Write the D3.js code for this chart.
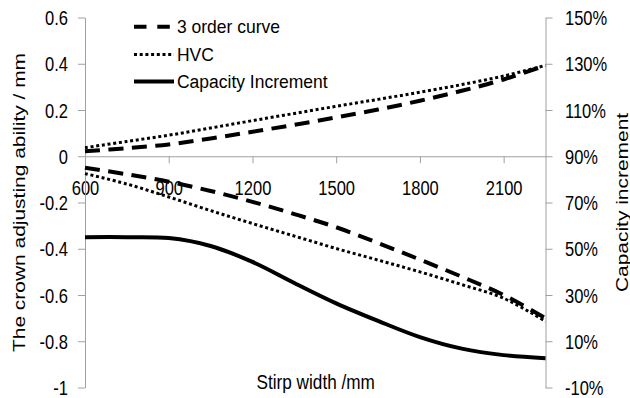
<!DOCTYPE html>
<html><head><meta charset="utf-8">
<script src="https://cdn.jsdelivr.net/npm/d3@7"></script>
<style>html,body{margin:0;padding:0;background:#fff;overflow:hidden}</style>
</head><body><svg id="chart" width="630" height="398"></svg>
<script>
// ---- data ----
const stripWidth = [600,750,900,1050,1200,1350,1500,1650,1800,1950,2100,2250];
const order3Upper = [0.022,0.035,0.051,0.077,0.106,0.136,0.168,0.202,0.240,0.283,0.332,0.393];
const order3Lower = [-0.050,-0.078,-0.110,-0.150,-0.197,-0.250,-0.307,-0.375,-0.447,-0.521,-0.600,-0.700];
const hvcUpper = [0.037,0.064,0.091,0.122,0.154,0.185,0.216,0.246,0.277,0.310,0.347,0.393];
const hvcLower = [-0.075,-0.120,-0.176,-0.235,-0.291,-0.345,-0.399,-0.449,-0.500,-0.555,-0.614,-0.714];
const capacityIncrement = [55.0,55.0,54.6,51.2,44.3,35.2,26.4,18.8,11.8,6.8,4.0,2.7];
const xTicks = [600,900,1200,1500,1800,2100];
const leftTicks = [0.6,0.4,0.2,0,-0.2,-0.4,-0.6,-0.8,-1];
const rightTicks = [150,130,110,90,70,50,30,10,-10];
const legendLabels = ["3 order curve","HVC","Capacity Increment"];
const xTitle = "Stirp width /mm";
const leftTitle = "The crown adjusting ability / mm";
const rightTitle = "Capacity increment";

// ---- styles ----
const FONT = "'Liberation Sans', Arial, Helvetica, sans-serif";
const AXIS = "#a0a0a0";
const SY = 1.22;
const DASH = "15,8.5", DOT = "3,2.7";

const svg = d3.select("#chart");
const x = d3.scaleLinear([600, 2250], [85, 545.5]);
const yL = d3.scaleLinear([-1, 0.6], [387.5, 17.5]);
const yR = d3.scaleLinear([-10, 150], [387.5, 17.5]);

function styleAxis(g){
  g.attr("font-family", FONT).attr("font-size", 16.5);
  g.select(".domain").attr("stroke", AXIS).attr("stroke-width", 1);
  g.selectAll(".tick line").attr("stroke", AXIS).attr("stroke-width", 1);
  g.selectAll(".tick text").attr("fill", "#000");
}

// x axis at zero
const gX = svg.append("g").attr("transform", `translate(0,${yL(0)})`)
  .call(d3.axisBottom(x).tickValues(xTicks).tickSize(7).tickSizeOuter(0).tickFormat(d => d));
styleAxis(gX);
gX.selectAll(".tick text").attr("y", 0).attr("dy", "0.35em")
  .attr("transform", `translate(0,31.5) scale(1,${SY})`);

// left axis
const fmtL = d => d === 0 ? "0" : String(+d.toFixed(1));
const gL = svg.append("g").attr("transform", `translate(${x(600)},0)`)
  .call(d3.axisLeft(yL).tickValues(leftTicks).tickSize(7).tickSizeOuter(0).tickFormat(fmtL));
styleAxis(gL);
gL.selectAll(".tick text").attr("x", 0).attr("dy", "0.35em").attr("text-anchor", "end")
  .attr("transform", `translate(-17,0) scale(1,${SY})`);

// right axis
const gR = svg.append("g").attr("transform", `translate(${x(2250)},0)`)
  .call(d3.axisRight(yR).tickValues(rightTicks).tickSize(7).tickSizeOuter(0).tickFormat(d => d + "%"));
styleAxis(gR);
gR.selectAll(".tick text").attr("x", 0).attr("dy", "0.35em").attr("text-anchor", "start")
  .attr("transform", `translate(19.5,0) scale(1,${SY})`);

// lines
const smooth = d3.curveCatmullRom.alpha(0.5);
const lineL = d3.line().x((d,i) => x(stripWidth[i])).y(d => yL(d)).curve(smooth);
const lineR = d3.line().x((d,i) => x(stripWidth[i])).y(d => yR(d)).curve(smooth);

function draw(path, data, dash, w){
  svg.append("path").attr("d", path(data)).attr("fill", "none").attr("stroke", "#000")
    .attr("stroke-width", w).attr("stroke-dasharray", dash);
}
draw(lineR, capacityIncrement, null, 4);
draw(lineL, hvcUpper, DOT, 3);
draw(lineL, hvcLower, DOT, 3);
draw(lineL, order3Upper, DASH, 4);
draw(lineL, order3Lower, DASH, 4);

// legend
const legendY = [26.7, 54.5, 81.5];
const legendDash = ["12.5,10.8", DOT, null];
const legendW = [4, 3, 4];
legendLabels.forEach((lab, i) => {
  svg.append("line").attr("x1", 134).attr("x2", 174).attr("y1", legendY[i]).attr("y2", legendY[i])
    .attr("stroke", "#000").attr("stroke-width", legendW[i]).attr("stroke-dasharray", legendDash[i]);
  svg.append("text").attr("transform", `translate(177,${legendY[i]}) scale(1,1.1)`)
    .attr("dy", "0.35em").attr("font-family", FONT).attr("font-size", 17.5).text(lab);
});

// titles
svg.append("text").attr("transform", `translate(315.7,388.5) scale(1,1.2)`)
  .attr("text-anchor", "middle").attr("font-family", FONT).attr("font-size", 17.2).text(xTitle);
svg.append("text").attr("transform", `translate(25,202.5) rotate(-90) scale(1.27,1)`)
  .attr("text-anchor", "middle").attr("font-family", FONT).attr("font-size", 16.5).text(leftTitle);
svg.append("text").attr("transform", `translate(628,202.5) rotate(-90) scale(1.27,1)`)
  .attr("text-anchor", "middle").attr("font-family", FONT).attr("font-size", 16.5).text(rightTitle);
</script>
</body></html>
